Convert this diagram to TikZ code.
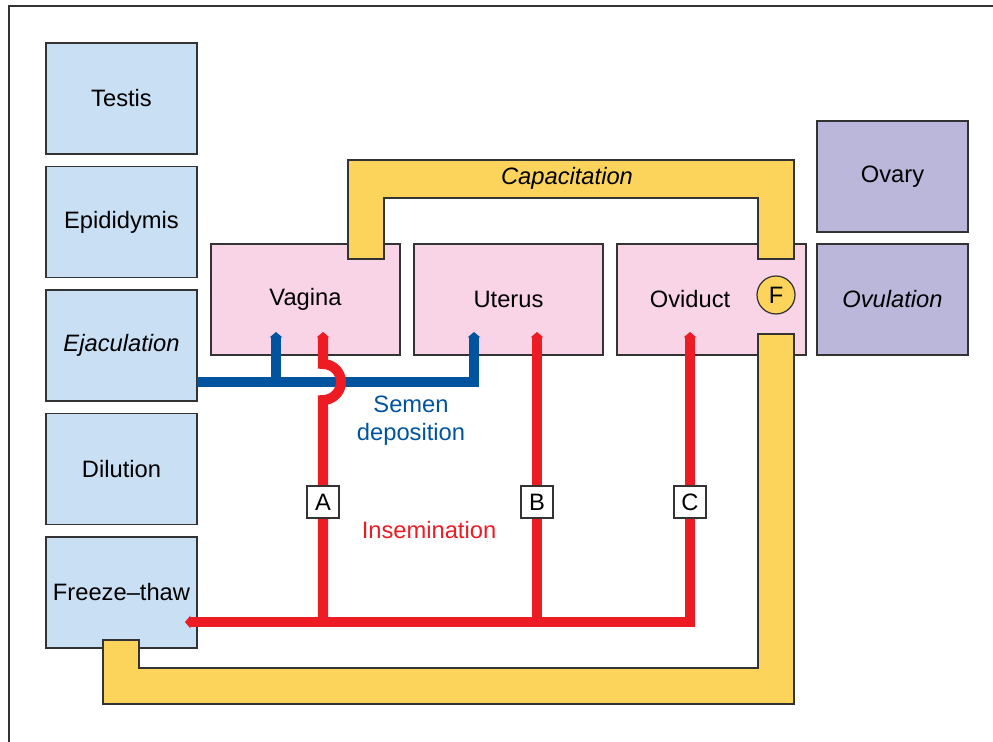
\documentclass[tikz,border=0pt]{standalone}
\usepackage{fontspec}
\setmainfont{Liberation Sans}
\usetikzlibrary{arrows.meta,positioning}
\definecolor{edge}{HTML}{333333}
\definecolor{malefill}{HTML}{C9DFF3}
\definecolor{tractfill}{HTML}{F8D4E6}
\definecolor{ovaryfill}{HTML}{BBB7DA}
\definecolor{bandfill}{HTML}{FCD45C}
\definecolor{semenblue}{HTML}{00549F}
\definecolor{insemred}{HTML}{ED1C24}

\begin{document}
\begin{tikzpicture}[x=0.02cm,y=-0.02cm,
  every node/.style={font=\fontsize{13.5}{16}\selectfont},
  organ/.style={draw=edge,line width=0.7pt,inner sep=0pt,minimum height=2.22cm},
  male/.style={organ,fill=malefill,minimum width=3.02cm},
  tract/.style={organ,fill=tractfill,minimum width=3.78cm},
  ovar/.style={organ,fill=ovaryfill,minimum width=3.02cm},
  band/.style={draw=edge,line width=0.7pt,fill=bandfill},
  semen/.style={draw=semenblue,line width=5.7pt},
  insem/.style={draw=insemred,line width=5.7pt},
  headed/.style={-{Triangle[length=3pt,width=7pt]}},
  routebox/.style={draw=edge,fill=white,line width=0.7pt,minimum size=0.64cm,inner sep=0pt}]
\useasboundingbox (0,0) rectangle (993,742);
\draw[edge,line width=0.7pt] (9,742) -- (9,6) -- (993,6);

% male side
\node (testis) at (121.5,98.5) [male] {Testis};
\node (epid) at (121.5,222) [male] {Epididymis};
\node (ejac) at (121.5,345.5) [male] {\itshape Ejaculation};
\node (dilut) at (121.5,469) [male] {Dilution};
\node (freeze) at (121.5,592.5) [male] {Freeze--thaw};

% female tract
\node (vagina) at (305.5,299.5) [tract] {Vagina};
\node (uterus) at (508.5,299.5) [tract] {Uterus};
\node (oviduct) at (711.5,299.5) [tract] {};
\node (ovitext) at (690,299.5) {Oviduct};
\node (ovary) at (892.5,176.5) [ovar] {Ovary};
\node (ovul) at (892.5,299.5) [ovar] {\itshape Ovulation};

% yellow bands
\draw[band] (348,259) -- (348,160) -- (794,160) -- (794,259) -- (758,259)
  -- (758,198) -- (384,198) -- (384,259) -- cycle;
\node (capac) at (567,178.5) {\itshape Capacitation};
\draw[band] (758,334) -- (794,334) -- (794,704) -- (103,704) -- (103,640)
  -- (139,640) -- (139,668) -- (758,668) -- cycle;
\node (fert) at (776,295) [circle,draw=edge,line width=0.7pt,fill=bandfill,minimum size=0.76cm,inner sep=0pt] {F};

% semen deposition
\coordinate (s0) at (197,382);
\coordinate (s1) at (276,382);
\coordinate (s2) at (474,382);
\coordinate (t1) at (276,332);
\coordinate (t2) at (474,332);
\draw[semen,headed] (s0) -- (s2) -- (t2);
\draw[semen,headed] (s1) -- (t1);
\node (semtext) at (411,421) [align=center,text=semenblue] {Semen\\deposition};

% insemination
\coordinate (ftip) at (185,622);
\coordinate (ia) at (323,622);
\coordinate (ib) at (537,622);
\coordinate (ic) at (690,622);
\coordinate (ta) at (323,332);
\coordinate (tb) at (537,332);
\coordinate (tc) at (690,332);
\draw[insem,{Triangle[length=3pt,width=7pt]}-{Triangle[length=3pt,width=7pt]}] (ftip) -- (ic) -- (tc);
\draw[insem,headed] (ia) -- (323,400) arc[start angle=90,end angle=-90,radius=18] -- (ta);
\draw[insem,headed] (ib) -- (tb);
\foreach \r/\x in {A/323,B/537,C/690} {
\node (r\r) at (\x,502) [routebox] {\r};
}
\node (instext) at (429,530) [text=insemred] {Insemination};
\end{tikzpicture}
\end{document}
